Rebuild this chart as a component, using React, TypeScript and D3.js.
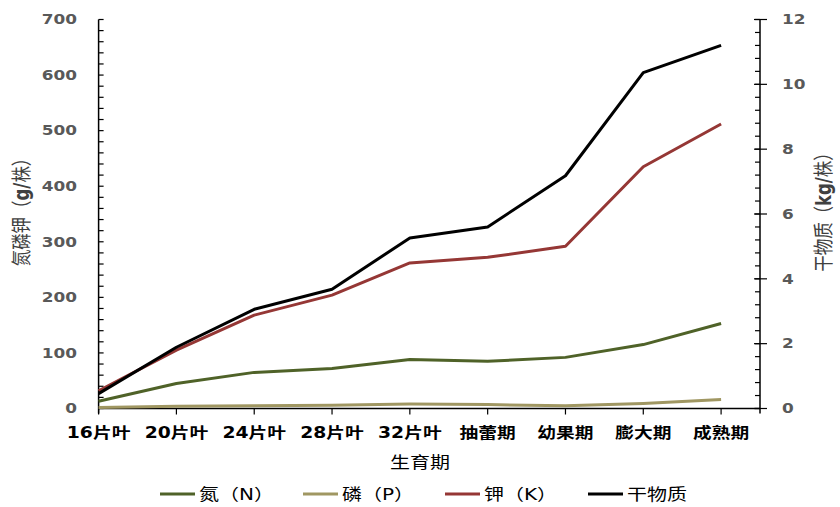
import React from "react";
import * as d3 from "d3";

const categories = ["16片叶", "20片叶", "24片叶", "28片叶", "32片叶", "抽蕾期", "幼果期", "膨大期", "成熟期"];
const nitrogen = [13, 45, 65, 72, 88, 85, 92, 115, 153];
const phosphorus = [2, 4, 5, 6, 8, 7, 5, 9, 16];
const potassium = [32, 105, 168, 204, 262, 272, 292, 435, 512];
const dryMatter = [0.46, 1.89, 3.06, 3.68, 5.26, 5.6, 7.18, 10.36, 11.2];
const leftTicks = [0, 100, 200, 300, 400, 500, 600, 700];
const rightTicks = [0, 2, 4, 6, 8, 10, 12];

const series = [
  { name: "氮（N）", values: nitrogen, color: "#4F6228", axis: "left" },
  { name: "磷（P）", values: phosphorus, color: "#A09762", axis: "left" },
  { name: "钾（K）", values: potassium, color: "#953735", axis: "left" },
  { name: "干物质", values: dryMatter, color: "#000000", axis: "right" },
];

const W = 840;
const H = 507;
const SX = 1.25;
const FONT = "'DejaVu Sans', 'Noto Sans CJK SC', sans-serif";

function T(props: any) {
  const { x, y, sx = SX, rotate = 0, children, ...rest } = props;
  const tf = rotate
    ? `translate(${x},${y}) rotate(${rotate}) scale(1,${sx})`
    : `translate(${x},${y}) scale(${sx},1)`;
  return (
    <text transform={tf} fontFamily={FONT} {...rest}>
      {children}
    </text>
  );
}

export default function App() {
  const x = d3.scaleLinear().domain([0, 8.5]).range([98.6, 760]);
  const yL = d3.scaleLinear().domain([0, 700]).range([408.5, 19.5]);
  const yR = d3.scaleLinear().domain([0, 12]).range([408.5, 19.5]);
  const leftMinor = d3.range(0, 701, 20);
  const rightMinor = d3.range(0, 12.01, 0.4);

  const lineFor = (s: any) =>
    d3
      .line<number>()
      .x((_, i) => x(i))
      .y((v) => (s.axis === "left" ? yL(v) : yR(v)))(s.values) as string;

  const legendX = [160, 303, 445, 588];

  return (
    <svg width={W} height={H} style={{ position: "absolute", left: 0, top: 0, background: "#fff" }}>
      <rect width={W} height={H} fill="#fff" />
      {/* left axis */}
      <line x1={x(0)} x2={x(0)} y1={yL(700)} y2={yL(0) + 5} stroke="#000" strokeWidth={1.5} />
      {leftMinor.map((v) => (
        <line key={"lm" + v} x1={x(0)} x2={x(0) + 5} y1={yL(v)} y2={yL(v)} stroke="#000" strokeWidth={1.2} />
      ))}
      {leftTicks.map((v) => (
        <T key={"lt" + v} x={77} y={yL(v) + 4.8} textAnchor="end" fontSize={13.5} fontWeight="bold" fill="#595959">
          {v}
        </T>
      ))}
      {/* right axis */}
      <line x1={760} x2={760} y1={yR(12)} y2={yR(0) + 5} stroke="#000" strokeWidth={1.5} />
      {rightMinor.map((v) => (
        <line key={"rm" + v} x1={755} x2={760} y1={yR(v)} y2={yR(v)} stroke="#000" strokeWidth={1.2} />
      ))}
      {rightTicks.map((v) => (
        <g key={"rt" + v}>
          <line x1={754} x2={767} y1={yR(v)} y2={yR(v)} stroke="#000" strokeWidth={1.2} />
          <T x={782} y={yR(v) + 4.8} textAnchor="start" fontSize={13.5} fontWeight="bold" fill="#595959">
            {v}
          </T>
        </g>
      ))}
      {/* x axis */}
      <line x1={x(0)} x2={760} y1={yL(0)} y2={yL(0)} stroke="#000" strokeWidth={1.5} />
      {categories.map((c, i) => (
        <g key={c}>
          <line x1={x(i)} x2={x(i)} y1={yL(0)} y2={yL(0) + 6} stroke="#000" strokeWidth={1.2} />
          <T x={x(i)} y={438} textAnchor="middle" fontSize={15} fontWeight="bold" fill="#000">
            {c}
          </T>
        </g>
      ))}
      {/* series */}
      {series.map((s) => (
        <path key={s.name} d={lineFor(s)} fill="none" stroke={s.color} strokeWidth={3} strokeLinejoin="round" />
      ))}
      {/* axis titles */}
      <T x={420} y={468} textAnchor="middle" fontSize={16} fill="#000">
        生育期
      </T>
      <T x={29} y={208} rotate={-90} textAnchor="middle" fontSize={16.5} fill="#404040">
        氮磷钾（<tspan fontWeight="bold">g/</tspan>株）
      </T>
      <T x={831} y={208} rotate={-90} textAnchor="middle" fontSize={16.5} fill="#404040">
        干物质（<tspan fontWeight="bold">kg/</tspan>株）
      </T>
      {/* legend */}
      {series.map((s, i) => (
        <g key={"lg" + s.name}>
          <line x1={legendX[i]} x2={legendX[i] + 35} y1={494} y2={494} stroke={s.color} strokeWidth={3} />
          <T x={legendX[i] + 39} y={500} textAnchor="start" fontSize={16} fill="#000">
            {s.name}
          </T>
        </g>
      ))}
    </svg>
  );
}
